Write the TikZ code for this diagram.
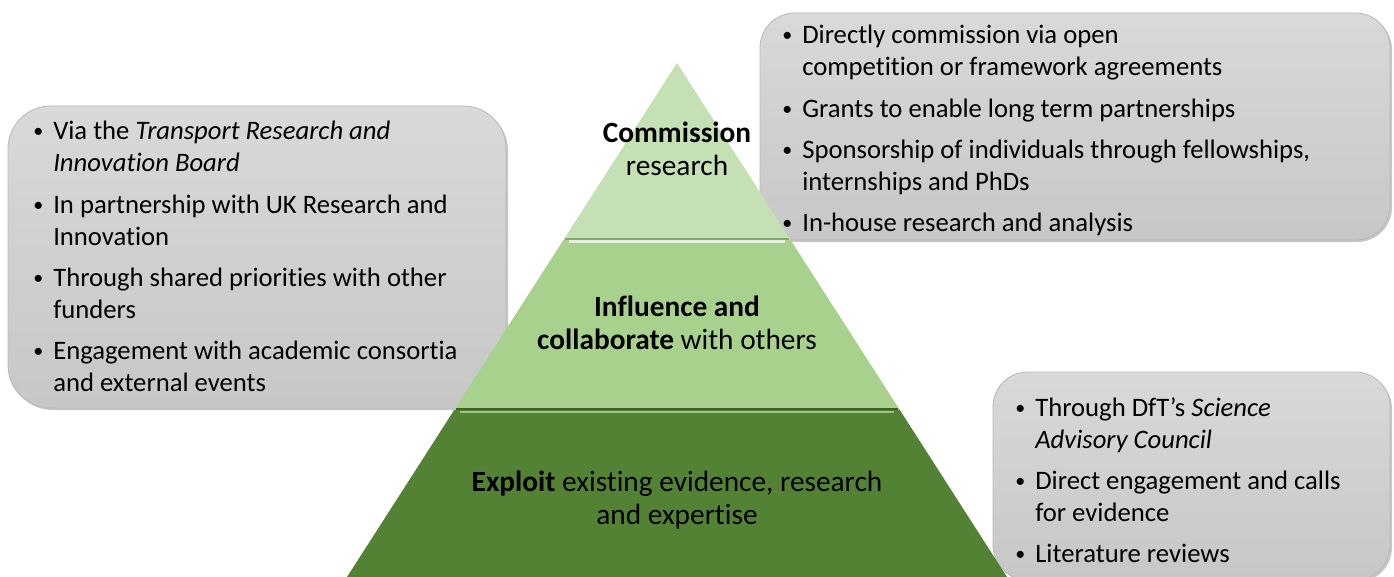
\documentclass[tikz,border=0pt]{standalone}
\usepackage{fontspec}
\setmainfont{Carlito}[Ligatures=NoCommon]
\usetikzlibrary{shadings}

\definecolor{tiertop}{HTML}{C5E0B4}
\definecolor{tiermid}{HTML}{A9D18E}
\definecolor{tierbase}{HTML}{548235}

\newcommand{\bx}{\makebox[15pt][l]{\raisebox{1.5pt}{\fontsize{15}{15}\selectfont\textbullet}}}
\newcommand{\nx}{\makebox[15pt][l]{}}

\begin{document}
\begin{tikzpicture}[x=0.75pt,y=-0.75pt,
    infobox/.style={top color=gray!30, bottom color=gray!44, draw=gray!55, line width=0.6pt},
    boxshadow/.style={fill=gray!45},
    infotext/.style={anchor=base west, inner sep=0pt, font=\fontsize{20}{24}\selectfont},
    tiertext/.style={align=center, inner sep=0pt, font=\fontsize{22}{25}\selectfont},
    bevel/.style={line width=2.2pt},
  ]
  \useasboundingbox (0,0) rectangle (1394,577);

  % grey panels behind the pyramid
  \fill[boxshadow, rounded corners=32pt] (10,108) rectangle (508,410);
  \draw[infobox, rounded corners=32pt] (8,106) rectangle (506,408);
  \fill[boxshadow, rounded corners=26pt] (762,15) rectangle (1392,242);
  \draw[infobox, rounded corners=26pt] (760,13) rectangle (1390,240);
  \fill[boxshadow, rounded corners=26pt] (995,374) rectangle (1392,582);
  \draw[infobox, rounded corners=26pt] (993,372) rectangle (1390,580);

  % pyramid tiers
  \fill[tiertop] (677,63) -- (790.6,240) -- (563.4,240) -- cycle;
  \fill[tiermid] (563.4,240) -- (790.6,240) -- (899.8,410) -- (454.2,410) -- cycle;
  \fill[tierbase] (454.2,410) -- (899.8,410) -- (1007,577) -- (347,577) -- cycle;
  \draw[bevel, tiermid!80!black] (565,239) -- (789,239);
  \draw[bevel, white!70!tiermid] (569,241.5) -- (785,241.5);
  \draw[bevel, tierbase!75!black] (456,409) -- (898,409);
  \draw[bevel, tiermid!85!tierbase] (460,412) -- (894,412);

  \node[tiertext] (commission) at (677,149) {\textbf{Commission}\\research};
  \node[tiertext] (influence) at (677,323) {\textbf{Influence and}\\\textbf{collaborate} with others};
  \node[tiertext] (exploit) at (677,500) {\textbf{Exploit} existing evidence, research\\and expertise};

  \node[infotext] (funders) at (33,140) {\begin{tabular}[t]{@{}l@{}}
    \bx Via the \textit{Transport Research and}\\
    \nx\textit{Innovation Board}\\[7pt]
    \bx In partnership with UK Research and\\
    \nx Innovation\\[7pt]
    \bx Through shared priorities with other\\
    \nx funders\\[7pt]
    \bx Engagement with academic consortia\\
    \nx and external events
  \end{tabular}};

  \node[infotext] (routes) at (782,44) {\begin{tabular}[t]{@{}l@{}}
    \bx Directly commission via open\\
    \nx competition or framework agreements\\[7pt]
    \bx Grants to enable long term partnerships\\[7pt]
    \bx Sponsorship of individuals through fellowships,\\
    \nx internships and PhDs\\[7pt]
    \bx In-house research and analysis
  \end{tabular}};

  \node[infotext] (sources) at (1015,416) {\begin{tabular}[t]{@{}l@{}}
    \bx Through DfT's \textit{Science}\\
    \nx\textit{Advisory Council}\\[7pt]
    \bx Direct engagement and calls\\
    \nx for evidence\\[7pt]
    \bx Literature reviews
  \end{tabular}};
\end{tikzpicture}
\end{document}
